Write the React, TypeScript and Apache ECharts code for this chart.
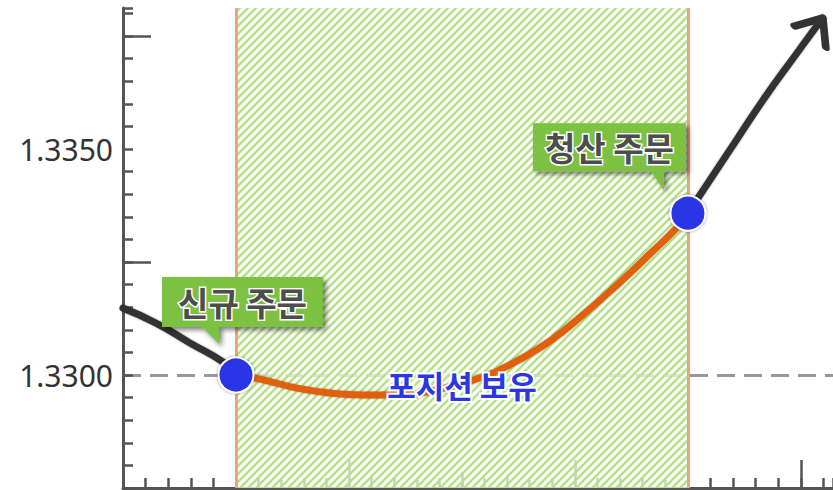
import React, { useEffect, useRef } from 'react';
import * as echarts from 'echarts';

// ---- data ----
const xMin = 0;
const xMax = 31.42;
const yMin = 1.3275;
const yMax = 1.33812;
const yLabelValues = [1.33, 1.335];
const yMajorTicks = [1.3325, 1.3375];
const xMediumTicks = [5, 15, 25];
const xMajorTicks = [10, 20, 30];

const entryX = 5;
const exitX = 25;
const entryPrice = 1.33;
const exitPrice = 1.33358;

const preTrend = [
  [0, 1.33148],
  [1.46, 1.33115],
  [2.96, 1.33071],
  [4.42, 1.33029],
  [5, 1.33],
];
const holding = [
  [5, 1.33],
  [6.06, 1.32991],
  [7.7, 1.32971],
  [9.16, 1.3296],
  [10.62, 1.32956],
  [12.26, 1.32956],
  [13.58, 1.32964],
  [15.93, 1.32996],
  [17.43, 1.33031],
  [18.89, 1.33075],
  [20.35, 1.33133],
  [21.86, 1.33199],
  [23.32, 1.33268],
  [24.51, 1.33326],
  [25, 1.33358],
];
const postTrend = [
  [25, 1.33358],
  [26.86, 1.33498],
  [28.32, 1.33608],
  [29.82, 1.33712],
  [30.97, 1.3379],
];
const orderLabels = ['신규 주문', '청산 주문'];
const holdLabel = '포지션 보유';
const holdLabelPos = [15, 1.32978];

// ---- styles ----
const AXIS = '#555';
const KR = '"Noto Sans CJK KR", "Noto Sans", sans-serif';

function makeHatch(): string {
  const s = 8;
  const c = document.createElement('canvas');
  c.width = s;
  c.height = s;
  const ctx = c.getContext('2d')!;
  ctx.fillStyle = 'rgba(255,255,255,0.7)';
  ctx.fillRect(0, 0, s, s);
  ctx.strokeStyle = '#b3e283';
  ctx.lineWidth = 2.4;
  ctx.beginPath();
  ctx.moveTo(-1, s + 1);
  ctx.lineTo(s + 1, -1);
  ctx.moveTo(-2, 2);
  ctx.lineTo(2, -2);
  ctx.moveTo(s - 2, s + 2);
  ctx.lineTo(s + 2, s - 2);
  ctx.stroke();
  return c.toDataURL();
}

const calloutA = 'path://M0,0L161,0L161,50L57,50L57,67L40,50L0,50Z';
const calloutB = 'path://M0,0L153,0L153,48L131,48L131,67L118,48L0,48Z';
const chevron = 'path://M0,23L19,0L38,23';

export default function App() {
  const ref = useRef<HTMLDivElement>(null);
  useEffect(() => {
    if (!ref.current) return;
    const chart = echarts.init(ref.current, null, { renderer: 'svg' });
    const tickStyle = { color: AXIS, width: 2.5 };
    const baseX = {
      type: 'value',
      min: xMin,
      max: xMax,
      position: 'bottom',
      axisLabel: { show: false },
      splitLine: { show: false },
    };
    const baseY = {
      type: 'value',
      min: yMin,
      max: yMax,
      position: 'left',
      offset: 0,
      splitLine: { show: false },
    };
    const hatch = makeHatch();
    const lastPost = postTrend[postTrend.length - 1];
    const curveShadow = { shadowColor: 'rgba(0,0,0,0.35)', shadowBlur: 2 };
    chart.setOption({
      animation: false,
      grid: { left: 123, right: 0, top: 8, bottom: 2, containLabel: false },
      xAxis: [
        {
          ...baseX,
          interval: 1,
          axisLine: { show: true, lineStyle: { color: AXIS, width: 3 } },
          axisTick: { show: true, inside: true, length: 10, lineStyle: tickStyle },
        },
        {
          ...baseX,
          axisLine: { show: false },
          axisTick: { show: true, inside: true, length: 16, customValues: xMediumTicks, lineStyle: tickStyle },
        },
        {
          ...baseX,
          axisLine: { show: false },
          axisTick: { show: true, inside: true, length: 28, customValues: xMajorTicks, lineStyle: tickStyle },
        },
      ],
      yAxis: [
        {
          ...baseY,
          interval: 0.0005,
          axisLine: { show: true, lineStyle: { color: AXIS, width: 3 } },
          axisTick: { show: true, inside: true, length: 10, lineStyle: tickStyle },
          axisLabel: { show: false },
        },
        {
          ...baseY,
          axisLine: { show: false },
          axisTick: { show: true, inside: true, length: 28, customValues: yMajorTicks, lineStyle: tickStyle },
          axisLabel: { show: false },
        },
        {
          ...baseY,
          axisLine: { show: false },
          axisTick: { show: false },
          axisLabel: {
            show: true,
            customValues: yLabelValues,
            formatter: (v: number) => v.toFixed(4),
            color: '#333',
            fontSize: 30,
            fontFamily: '"Noto Sans", sans-serif',
            margin: 10,
          },
        },
      ],
      series: [
        {
          type: 'line',
          data: [],
          silent: true,
          markLine: {
            silent: true,
            z: 0,
            symbol: ['none', 'none'],
            label: { show: false },
            lineStyle: { type: [18, 9], color: '#999', width: 3 },
            data: yLabelValues.map((v) => ({ yAxis: v })),
          },
        },
        {
          type: 'line',
          data: [],
          silent: true,
          markArea: {
            silent: true,
            z: 1,
            itemStyle: {
              color: { image: hatch, repeat: 'repeat', imageWidth: 8, imageHeight: 8 },
            },
            data: [[{ xAxis: entryX }, { xAxis: exitX }]],
          },
          markLine: {
            silent: true,
            z: 2,
            symbol: ['none', 'none'],
            label: { show: false },
            lineStyle: { type: 'solid', color: '#e9a47c', width: 3 },
            data: [{ xAxis: entryX }, { xAxis: exitX }],
          },
        },
        {
          type: 'line',
          z: 3,
          data: preTrend,
          smooth: true,
          symbol: 'none',
          lineStyle: { color: '#333', width: 7, cap: 'round', ...curveShadow },
        },
        {
          type: 'line',
          z: 3,
          data: holding,
          smooth: true,
          symbol: 'none',
          lineStyle: { color: '#e0610d', width: 7, cap: 'round', ...curveShadow },
          markPoint: {
            silent: true,
            z: 6,
            data: [
              {
                name: holdLabel,
                coord: holdLabelPos,
                symbol: 'circle',
                symbolSize: 1,
                itemStyle: { color: 'transparent' },
              },
            ],
            label: {
              show: true,
              position: 'inside',
              formatter: '{b}',
              color: '#2b36e6',
              fontSize: 31,
              fontWeight: 'bold',
              fontFamily: KR,
              textBorderColor: '#fff',
              textBorderWidth: 4,
            },
          },
        },
        {
          type: 'line',
          z: 3,
          data: postTrend.map((p, i) =>
            i === postTrend.length - 1
              ? {
                  value: lastPost,
                  symbol: chevron,
                  symbolSize: [38, 23],
                  symbolRotate: -34,
                  symbolOffset: [-6.4, 9.5],
                  itemStyle: { color: 'transparent', borderColor: '#333', borderWidth: 7, borderCap: 'round', borderJoin: 'round' },
                }
              : { value: p, symbol: 'none' }
          ),
          smooth: true,
          clip: false,
          showSymbol: true,
          lineStyle: { color: '#333', width: 7, cap: 'round', ...curveShadow },
        },
        {
          type: 'scatter',
          z: 4,
          data: [
            [entryX, entryPrice],
            [exitX, exitPrice],
          ],
          symbolSize: 35,
          itemStyle: {
            color: '#2b35e6',
            opacity: 1,
            borderColor: '#fff',
            borderWidth: 2,
            shadowColor: 'rgba(0,0,0,0.45)',
            shadowBlur: 3,
          },
          markPoint: {
            silent: true,
            z: 6,
            itemStyle: {
              color: '#7bc143',
              shadowBlur: 5,
              shadowOffsetX: 3,
              shadowOffsetY: 3,
              shadowColor: 'rgba(0,0,0,0.5)',
            },
            label: {
              show: true,
              position: 'inside',
              formatter: '{b}',
              color: '#4d4d4d',
              fontSize: 33,
              fontWeight: 'bold',
              fontFamily: KR,
              textBorderColor: '#fff',
              textBorderWidth: 3,
            },
            data: [
              {
                name: orderLabels[0],
                coord: [entryX, entryPrice],
                symbol: calloutA,
                symbolSize: [161, 67],
                symbolOffset: [6.5, -64.5],
                label: { offset: [0, -8.5] },
              },
              {
                name: orderLabels[1],
                coord: [exitX, exitPrice],
                symbol: calloutB,
                symbolSize: [153, 67],
                symbolOffset: [-78.5, -56.5],
                label: { offset: [0, -9.5] },
              },
            ],
          },
        },
      ],
    });
    return () => chart.dispose();
  }, []);
  return (
    <div
      ref={ref}
      style={{ position: 'absolute', left: 0, top: 0, width: 833, height: 490 }}
    />
  );
}
